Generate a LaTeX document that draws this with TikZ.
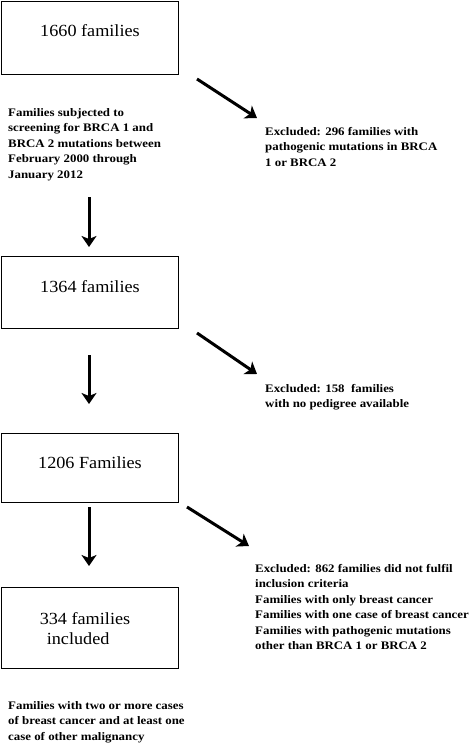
\documentclass[tikz,border=0pt]{standalone}
\usepackage{fontspec}
\setmainfont{Liberation Serif}
\newfontfamily\notefont[FakeStretch=1.12]{Liberation Serif}
\newfontfamily\boxfont[FakeStretch=1.07]{Liberation Serif}
\usetikzlibrary{arrows.meta}
\begin{document}
\begin{tikzpicture}[x=1pt,y=-1pt,
  box/.style={draw,line width=0.9pt,minimum width=177pt,anchor=north west,inner sep=0pt},
  boxtext/.style={font=\boxfont\fontsize{17}{20}\selectfont},
  note/.style={anchor=north west,align=left,inner sep=0pt,font=\notefont\bfseries\fontsize{11.5}{15.5}\selectfont},
  arr/.style={line width=3pt,-{Stealth[length=11pt,width=15pt,inset=3pt]}}]
\useasboundingbox (0,0) rectangle (473,744);
% boxes
\node[box,minimum height=73pt] (b1) at (0.5,0.5) {};
\node[boxtext] (t1) at (90,31) {1660 families};
\node[box,minimum height=72pt] (b2) at (0.5,256) {};
\node[boxtext] (t2) at (90,287) {1364 families};
\node[box,minimum height=69pt] (b3) at (0.5,433) {};
\node[boxtext] (t3) at (90,463) {1206 Families};
\node[box,minimum height=81pt] (b4) at (0.5,587) {};
\node[boxtext,align=left] (t4) at (85,629) {334 families\\\hspace*{7pt}included};
% notes
\node[note] (n1) at (8,108) {Families subjected to\\screening for BRCA 1 and\\BRCA 2 mutations between\\February 2000 through\\January 2012};
\node[note] (e1) at (265,127) {Excluded: 296 families with\\pathogenic mutations in BRCA\\1 or BRCA 2};
\node[note] (e2) at (265,384) {Excluded: 158~ families\\with no pedigree available};
\node[note] (e3) at (255,564) {Excluded: 862 families did not fulfil\\inclusion criteria\\Families with only breast cancer\\Families with one case of breast cancer\\Families with pathogenic mutations\\other than BRCA 1 or BRCA 2};
\node[note] (n4) at (8,701) {Families with two or more cases\\of breast cancer and at least one\\case of other malignancy};
% arrow endpoints
\coordinate (d1s) at (89,197); \coordinate (d1e) at (89,247);
\coordinate (d2s) at (89,355); \coordinate (d2e) at (89,404);
\coordinate (d3s) at (89,507); \coordinate (d3e) at (89,566);
\coordinate (a1s) at (197,79); \coordinate (a1e) at (257,118);
\coordinate (a2s) at (197,333); \coordinate (a2e) at (257,374);
\coordinate (a3s) at (187,507); \coordinate (a3e) at (249,546);
\draw[arr] (d1s) -- (d1e);
\draw[arr] (d2s) -- (d2e);
\draw[arr] (d3s) -- (d3e);
\draw[arr] (a1s) -- (a1e);
\draw[arr] (a2s) -- (a2e);
\draw[arr] (a3s) -- (a3e);
\end{tikzpicture}
\end{document}
